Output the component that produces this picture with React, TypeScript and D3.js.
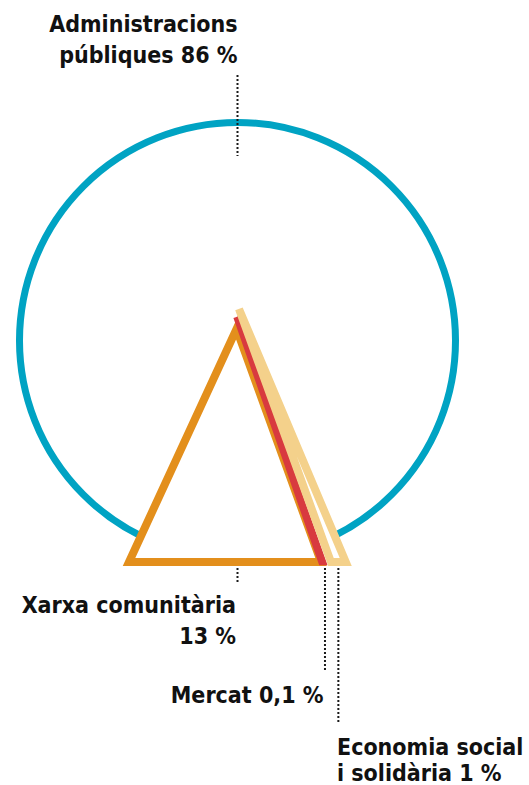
import React from 'react';
import * as d3 from 'd3';

// Shares of the total, by sector
const categories = ['Administracions públiques', 'Xarxa comunitària', 'Mercat', 'Economia social i solidària'];
const shares = [86, 13, 0.1, 1];
const shareLabels = ['86 %', '13 %', '0,1 %', '1 %'];
// how many words of the category stay on the first label line (null = single line)
const wrapAfter = [1, 2, null, 2];
const colors = ['#00a3c3', '#e38f1c', '#d83a3f', '#f4d18b'];

const W = 529;
const H = 785;
const cx = 237.5;
const cy = 340.5;
const baseY = 562;
const baseX0 = 129;
const FONT = "'DejaVu Sans Condensed', 'DejaVu Sans', sans-serif";

// triangle styling (stroke width, gap before it, apex) for the three small sectors
const triStroke = [8, 6.5, 8];
const triGap = [0, 0.5, 8];
const triApex = [[236.5, 329], [236.5, 317], [239, 309]];

const labelLines = (i: number) => {
  const words = categories[i].split(' ');
  const n = wrapAfter[i];
  if (n === null) return [`${categories[i]} ${shareLabels[i]}`];
  const rest = words.slice(n).join(' ');
  return [words.slice(0, n).join(' '), rest ? `${rest} ${shareLabels[i]}` : shareLabels[i]];
};

export default function App() {
  const rScale = d3.scaleSqrt().domain([0, 86]).range([0, 218]);
  const wScale = d3.scaleLinear().domain([0, 13]).range([0, 192]);

  // stack the triangle bases side by side
  const tris: { x0: number; x1: number; apex: number[]; sw: number; color: string }[] = [];
  let x = baseX0;
  shares.slice(1).forEach((v, j) => {
    x += triGap[j];
    const x0 = x;
    x += wScale(v);
    tris.push({ x0, x1: x, apex: triApex[j], sw: triStroke[j], color: colors[j + 1] });
  });

  const line = d3.line();
  const triPath = (t: any) => line([[t.x0, baseY], t.apex, [t.x1, baseY]]) + 'Z';
  const hull = line([[tris[0].x0, baseY], tris[2].apex, [tris[2].x1, baseY]]) + 'Z';

  const r = rScale(shares[0]);
  const dot = { stroke: '#1a1a1a', strokeWidth: 2, strokeDasharray: '2 2' };
  const txt = { fontFamily: FONT, fontWeight: 700, fontSize: 23, fill: '#111' };

  const lead = [
    { x: cx, y0: 75, y1: 156 },
    { x: cx, y0: 568, y1: 584 },
    { x: tris[1].x1 + 2, y0: 568, y1: 672 },
    { x: (tris[2].x0 + tris[2].x1) / 2, y0: 568, y1: 722 },
  ];
  const labels = [
    { x: cx, y: 32, anchor: 'end', lh: 31 },
    { x: 236, y: 613, anchor: 'end', lh: 31 },
    { x: 323.5, y: 703, anchor: 'end', lh: 31 },
    { x: 337, y: 755, anchor: 'start', lh: 26 },
  ];

  return (
    <div style={{ position: 'absolute', left: 0, top: 0 }}>
      <svg width={W} height={H} style={{ display: 'block', background: '#fff' }}>
        <circle cx={cx} cy={cy} r={r} fill="none" stroke={colors[0]} strokeWidth={7} />
        <path d={hull} fill="#fff" />
        {tris.map((t, i) => (
          <path key={i} d={triPath(t)} fill="#fff" stroke={t.color} strokeWidth={t.sw} strokeLinejoin="miter" />
        ))}
        {lead.map((l, i) => (
          <line key={i} x1={l.x} x2={l.x} y1={l.y0} y2={l.y1} {...dot} />
        ))}
        {labels.map((l, i) => (
          <text key={i} x={l.x} y={l.y} textAnchor={l.anchor} {...txt}>
            {labelLines(i).map((s, k) => (
              <tspan key={k} x={l.x} y={l.y + k * l.lh}>{s}</tspan>
            ))}
          </text>
        ))}
      </svg>
    </div>
  );
}
